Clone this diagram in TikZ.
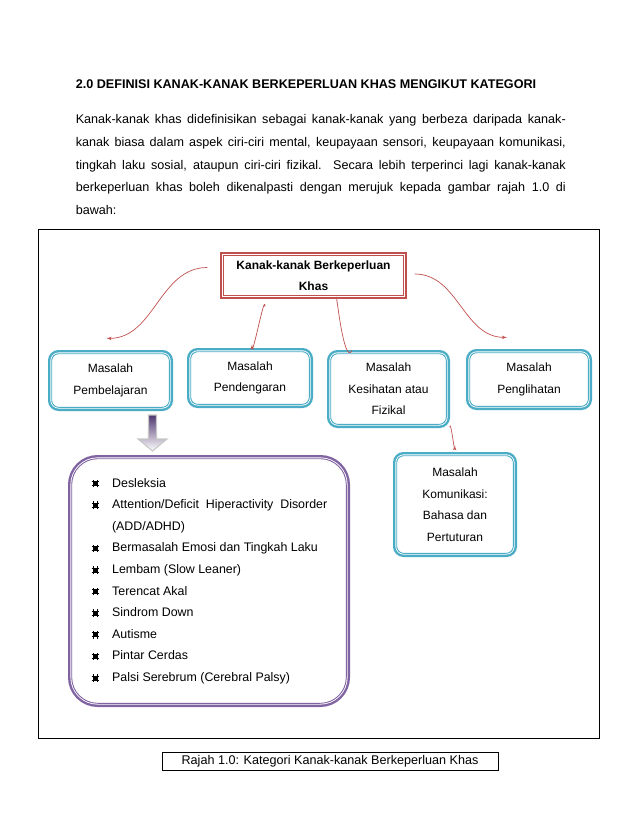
\documentclass[tikz,border=0pt]{standalone}
\usepackage{fontspec}
\setmainfont{Liberation Sans}
\usepackage{xcolor}
\usepackage{tikz}
\usetikzlibrary{positioning}
\usetikzlibrary{arrows}
\definecolor{boxteal}{HTML}{4BACC6}
\definecolor{boxred}{HTML}{C0504D}
\definecolor{boxpurple}{HTML}{8064A2}
\definecolor{arrowpurple}{HTML}{4F3670}
\tikzset{edge/.style = {->,> = latex', color=boxred, line width=.7pt}}
\tikzset{dbl/.style = {preaction={draw=#1, line width=7.4pt}, fill=white, draw=white, line width=2.6pt, postaction={draw=#1, line width=.9pt}}}
\newcommand{\bul}{\tikz[baseline=0pt,x=1pt,y=1pt,line width=.8pt]{\fill[black] (-2,1.4) rectangle (2,5.4); \draw[black] (-3.8,1.4) -- (3.8,1.4) (-3.8,5.4) -- (3.8,5.4) (-2,-.4) -- (-2,7.2) (2,-.4) -- (2,7.2);}}
\newcommand{\butir}{\bul\hspace{12.6pt}}

\begin{document}
\begin{tikzpicture}[x=1pt,y=-1pt,main node/.style={dbl=boxteal,rounded corners=7pt,align=center,inner sep=0pt,font=\fontsize{12}{21.5}\selectfont}]
\useasboundingbox (0,0) rectangle (638,826);

\node[anchor=base west, inner sep=0pt, font=\bfseries\fontsize{12.6}{14}\selectfont] (judul) at (75.6,88.3) {2.0 DEFINISI KANAK-KANAK BERKEPERLUAN KHAS MENGIKUT KATEGORI};
\node[anchor=north west, inner sep=0pt, align=left, font=\fontsize{12.6}{22.6}\selectfont] (para) at (75.6,114.6)
  {\makebox[490pt][s]{Kanak-kanak khas didefinisikan sebagai kanak-kanak yang berbeza daripada kanak-}\\
   \makebox[490pt][s]{kanak biasa dalam aspek ciri-ciri mental, keupayaan sensori, keupayaan komunikasi,}\\
   \makebox[490pt][s]{tingkah laku sosial, ataupun ciri-ciri fizikal. Secara lebih terperinci lagi kanak-kanak}\\
   \makebox[490pt][s]{berkeperluan khas boleh dikenalpasti dengan merujuk kepada gambar rajah 1.0 di}\\
   bawah:};

\draw[line width=.8pt] (38,229) rectangle (599,738);

\node[dbl=boxred, inner sep=0pt, align=center, minimum width=179.6pt, minimum height=39.6pt, font=\bfseries\fontsize{12}{21}\selectfont] (khas) at (313.5,275.5) {Kanak-kanak Berkeperluan\\Khas};

\node[main node, minimum width=117.6pt, minimum height=53.6pt] (b1) at (110.5,380.5) {Masalah\\Pembelajaran};
\node[main node, minimum width=118.6pt, minimum height=52.6pt] (b2) at (250,378) {Masalah\\Pendengaran};
\node[main node, minimum width=115.6pt, minimum height=70.6pt] (b3) at (388.5,389) {Masalah\\Kesihatan atau\\Fizikal};
\node[main node, minimum width=118.6pt, minimum height=53.6pt] (b4) at (529,379.5) {Masalah\\Penglihatan};
\node[main node, minimum width=116.6pt, minimum height=97.6pt] (komunikasi) at (455,504.5) {Masalah\\Komunikasi:\\Bahasa dan\\Pertuturan};

\node[dbl=boxpurple, rounded corners=26pt, minimum width=274.6pt, minimum height=244.6pt] (ungu) at (209,581) {};
\node[anchor=north west, inner sep=0pt, align=left, font=\fontsize{12.4}{21.6}\selectfont] (senarai) at (91,477.9)
  {\butir Desleksia\\
   \butir\makebox[215pt][s]{Attention/Deficit Hiperactivity Disorder}\\
   \hspace*{20.8pt}(ADD/ADHD)\\
   \butir Bermasalah Emosi dan Tingkah Laku\\
   \butir Lembam (Slow Leaner)\\
   \butir Terencat Akal\\
   \butir Sindrom Down\\
   \butir Autisme\\
   \butir Pintar Cerdas\\
   \butir Palsi Serebrum (Cerebral Palsy)};

% panah blok ke senarai
\shade[top color=arrowpurple, middle color=arrowpurple!85, bottom color=white, draw=black!22, line width=1.1pt]
  (148.5,415) -- (156.5,415) -- (156.5,439) -- (167,439) -- (152.5,451) -- (138,439) -- (148.5,439) -- cycle;

\path[edge] ([xshift=-15pt,yshift=8pt]khas.west) edge[out=180,in=0] ([xshift=-4pt,yshift=14pt]b1.north);
\path[edge] ([xshift=-48.5pt,yshift=-10pt]khas.south) edge[out=90,in=-90] ([xshift=2pt,yshift=6pt]b2.north);
\path[edge,-] ([xshift=23.5pt,yshift=-6pt]khas.south) edge[out=95,in=-115] ([xshift=-36.5pt,yshift=2pt]b3.north);
\path[edge] ([xshift=10pt,yshift=1.5pt]khas.east) edge[out=0,in=180] ([xshift=-22pt,yshift=14pt]b4.north);
\path[edge] ([xshift=2pt,yshift=-1.5pt]b3.south east) edge[out=80,in=-95] ([yshift=9pt]komunikasi.north);

\node[draw, line width=.6pt, inner sep=2pt, minimum width=336pt, minimum height=18pt, font=\fontsize{12.6}{14}\selectfont] (tajuk) at (330,761) {Rajah 1.0: Kategori Kanak-kanak Berkeperluan Khas};
\end{tikzpicture}
\end{document}
